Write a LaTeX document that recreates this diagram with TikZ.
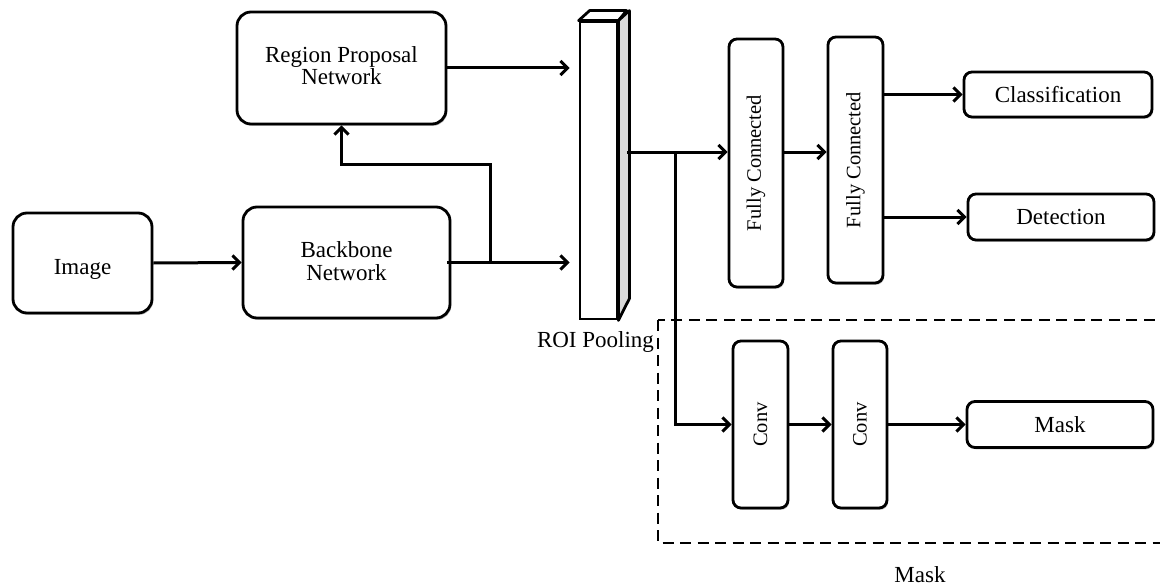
\documentclass[tikz,border=0pt]{standalone}
\usepackage{fontspec}
\setmainfont{Liberation Serif}
\usetikzlibrary{arrows.meta,shadows}

% text whose last baseline sits #1 below the node centre, taking no room of its own
\newcommand{\placedtext}[2]{\smash{\makebox[0pt]{\raisebox{-#1}{\parbox[b]{200pt}{\centering #2}}}}}

\tikzset{
  box/.style={draw=black, line width=2.8pt, rounded corners=#1, fill=white, inner sep=0pt,
    align=center, font=\fontsize{23}{22.5}\selectfont,
    drop shadow={shadow xshift=1.2pt, shadow yshift=-1.8pt, opacity=0.25, fill=black}},
  box/.default=14pt,
  vbox/.style={box=8pt, font=\fontsize{20.5}{20.5}\selectfont},
  hbox/.style={box=8pt},
  arr/.style={draw=black, line width=3pt, -{Straight Barb[length=7pt, width=14pt, line width=3pt]}},
  caption/.style={font=\fontsize{23}{23}\selectfont, inner sep=0pt},
}

\begin{document}
\begin{tikzpicture}[x=1pt, y=-1pt]
\useasboundingbox (0,0) rectangle (1160,586);

% dashed frame of the mask branch
\draw[line width=2.8pt, dash pattern=on 11pt off 6.5pt] (658,320) rectangle (1182,543);

% input side
\node[box, minimum width=139pt, minimum height=100pt] (img) at (82.5,263) {\placedtext{11pt}{Image}};
\node[box, minimum width=207pt, minimum height=111pt] (bb) at (346.5,262.5) {\placedtext{17.5pt}{Backbone\\Network}};
\node[box, minimum width=209pt, minimum height=112pt] (rpn) at (341.5,68) {\placedtext{17pt}{Region Proposal\\Network}};

% ROI pooling block
\node[draw=black, line width=2.8pt, fill=white, minimum width=37pt, minimum height=297pt, inner sep=0pt] (roi) at (598.5,170.5) {};
\draw[line width=2.8pt, line join=round, fill=white] (roi.north west) -- ++(11,-10) -- ++(37,0) -- (roi.north east) -- cycle;
\draw[line width=2.8pt, line join=round, fill=gray!30] (roi.north east) -- ++(11,-10) -- ++(0,288) -- (roi.south east) -- cycle;
\node[caption] (roilbl) at (595.5,342) {ROI Pooling};

% heads
\node[vbox, minimum width=54pt, minimum height=248pt] (fc1) at (756,163) {\rotatebox{90}{Fully Connected}};
\node[vbox, minimum width=55pt, minimum height=246pt] (fc2) at (855.5,160) {\rotatebox{90}{Fully Connected}};
\node[hbox, minimum width=188pt, minimum height=45pt] (cls) at (1058,94.5) {Classification};
\node[hbox, minimum width=186pt, minimum height=46pt] (det) at (1061,217) {Detection};
\node[vbox, minimum width=55pt, minimum height=167pt] (conv1) at (760.5,424.5) {\rotatebox{90}{Conv}};
\node[vbox, minimum width=54pt, minimum height=167pt] (conv2) at (860,424.5) {\rotatebox{90}{Conv}};
\node[hbox, minimum width=186pt, minimum height=46pt] (mask) at (1060,424.5) {Mask};
\node[caption] (masklbl) at (920,575) {Mask};

% junction points
\coordinate (br) at (490,263);
\coordinate (brtop) at (490,164);
\coordinate (roiout) at (627,152);
\coordinate (jn) at (675,152);

% connectors
\draw[arr] (img.east) -- (bb.west);
\draw[arr, shorten >=9pt] ([xshift=-4pt]bb.east) -- (bb.east -| roi.west);
\draw[arr, shorten >=9pt] (rpn.east) -- (rpn.east -| roi.west);
\draw[arr] (br) -- (brtop) -| (rpn.south);
\draw[arr] (roiout) -- (roiout -| fc1.west);
\draw[arr] (fc1.east |- roiout) -- (fc2.west |- roiout);
\draw[arr] (jn) |- (conv1.west);
\draw[arr] (conv1.east) -- (conv2.west);
\draw[arr] (conv2.east) -- (mask.west);
\draw[arr] (fc2.east |- cls.west) -- (cls.west);
\draw[arr] (fc2.east |- det.west) -- (det.west);
\end{tikzpicture}
\end{document}
